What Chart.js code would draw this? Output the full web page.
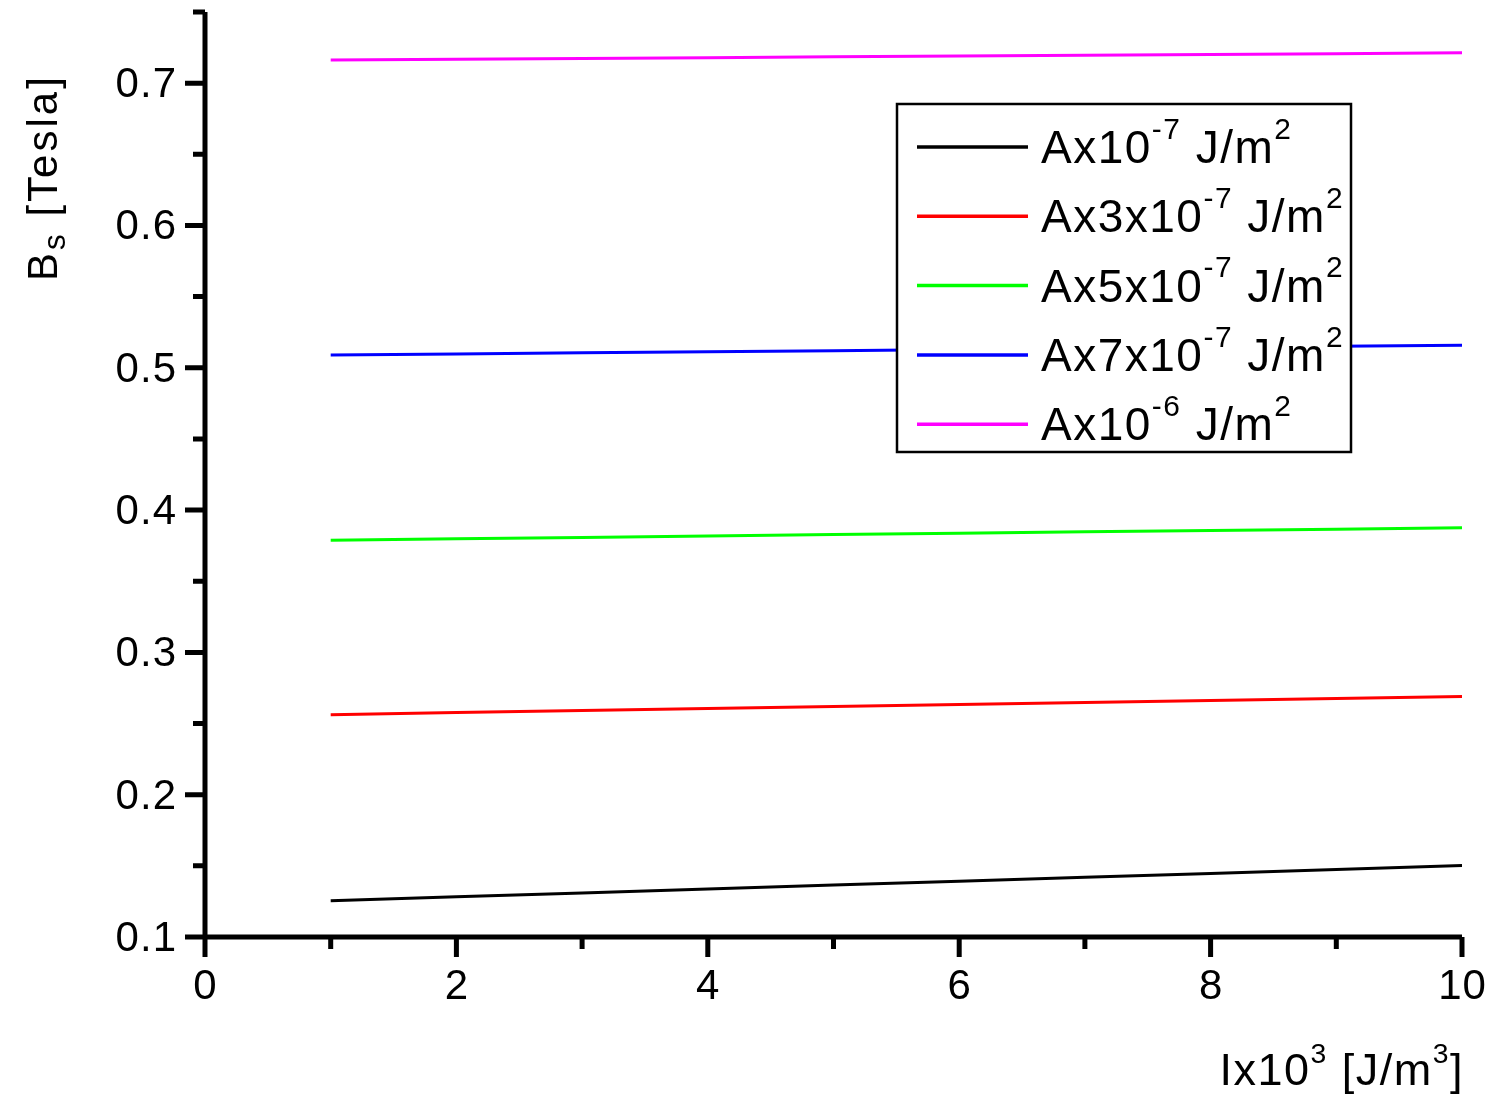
<!DOCTYPE html>
<html>
<head>
<meta charset="utf-8">
<script src="https://cdn.jsdelivr.net/npm/chart.js@4.4.0/dist/chart.umd.min.js"></script>
<style>
    html, body { margin: 0; padding: 0; background: #fff; }
    canvas { display: block; }
</style>
</head>
<body>
<canvas id="myChart" width="1498" height="1112"></canvas>
<script>
// I x 10^3 [J/m^3]
const xValues = [1, 2, 3, 4, 5, 6, 7, 8, 9, 10];

// Bs [Tesla]
const bsA1e7 = [0.1255, 0.1282, 0.1310, 0.1338, 0.1365, 0.1392, 0.1420, 0.1447, 0.1475, 0.1502];
const bsA3e7 = [0.2562, 0.2577, 0.2592, 0.2606, 0.2620, 0.2634, 0.2648, 0.2662, 0.2676, 0.2690];
const bsA5e7 = [0.3788, 0.3798, 0.3808, 0.3818, 0.3828, 0.3838, 0.3847, 0.3856, 0.3866, 0.3875];
const bsA7e7 = [0.5089, 0.5097, 0.5105, 0.5113, 0.5120, 0.5128, 0.5136, 0.5143, 0.5151, 0.5159];
const bsA1e6 = [0.7162, 0.7168, 0.7174, 0.7179, 0.7185, 0.7191, 0.7196, 0.7202, 0.7207, 0.7213];

const seriesLabels = [
    "Ax10^{-7} J/m^{2}",
    "Ax3x10^{-7} J/m^{2}",
    "Ax5x10^{-7} J/m^{2}",
    "Ax7x10^{-7} J/m^{2}",
    "Ax10^{-6} J/m^{2}"
];
const seriesColors = ["#000000", "#ff0000", "#00ff00", "#0000ff", "#ff00ff"];

const xMajorTicks = [0, 2, 4, 6, 8, 10];
const xMinorTicks = [1, 3, 5, 7, 9];
const yMajorTicks = [0.1, 0.2, 0.3, 0.4, 0.5, 0.6, 0.7];
const yMinorTicks = [0.15, 0.25, 0.35, 0.45, 0.55, 0.65, 0.75];

const xTitle = "Ix10^{3} [J/m^{3}]";
const yTitle = "B_{s} [Tesla]";

const FONT = '"Liberation Sans", Arial, sans-serif';

function richParts(text) {
    const parts = [];
    const re = /([\^_])\{([^}]*)\}/g;
    let last = 0;
    let m;
    while ((m = re.exec(text)) !== null) {
        if (m.index > last) parts.push({ t: text.slice(last, m.index), k: "" });
        parts.push({ t: m[2], k: m[1] });
        last = re.lastIndex;
    }
    if (last < text.length) parts.push({ t: text.slice(last), k: "" });
    return parts;
}

function richWidth(ctx, text, size, o) {
    let w = 0;
    ctx.letterSpacing = o.spacing + "px";
    richParts(text).forEach(p => {
        ctx.font = (p.k ? size * o.scale : size) + "px " + FONT;
        w += ctx.measureText(p.t).width;
    });
    return w;
}

function drawRich(ctx, text, x, y, size, o) {
    ctx.textAlign = "left";
    ctx.textBaseline = "alphabetic";
    ctx.letterSpacing = o.spacing + "px";
    richParts(text).forEach(p => {
        const s = p.k ? size * o.scale : size;
        let dy = 0;
        if (p.k === "^") dy = -size * o.rise;
        if (p.k === "_") dy = size * o.drop;
        ctx.font = s + "px " + FONT;
        ctx.fillText(p.t, x, y + dy);
        x += ctx.measureText(p.t).width;
    });
}

const axesPlugin = {
    id: "originAxes",
    afterDraw(chart) {
        const ctx = chart.ctx;
        const xs = chart.scales.x;
        const ys = chart.scales.y;
        const area = chart.chartArea;

        ctx.save();
        ctx.strokeStyle = "#000";
        ctx.fillStyle = "#000";
        ctx.lineWidth = 5;
        ctx.lineCap = "butt";

        // garis sumbu
        ctx.beginPath();
        ctx.moveTo(area.left, area.top);
        ctx.lineTo(area.left, area.bottom);
        ctx.moveTo(area.left, area.bottom);
        ctx.lineTo(area.right, area.bottom);
        ctx.stroke();

        // tick sumbu Y (ke kiri)
        ctx.beginPath();
        yMajorTicks.forEach(v => {
            const py = ys.getPixelForValue(v);
            ctx.moveTo(area.left - 20, py);
            ctx.lineTo(area.left, py);
        });
        yMinorTicks.forEach(v => {
            const py = ys.getPixelForValue(v);
            ctx.moveTo(area.left - 12, py);
            ctx.lineTo(area.left, py);
        });
        // tick sumbu X (ke bawah)
        xMajorTicks.forEach(v => {
            const px = xs.getPixelForValue(v);
            ctx.moveTo(px, area.bottom);
            ctx.lineTo(px, area.bottom + 20);
        });
        xMinorTicks.forEach(v => {
            const px = xs.getPixelForValue(v);
            ctx.moveTo(px, area.bottom);
            ctx.lineTo(px, area.bottom + 12);
        });
        ctx.stroke();

        // label tick
        ctx.font = "42px " + FONT;
        ctx.letterSpacing = "1px";
        ctx.textBaseline = "alphabetic";
        ctx.textAlign = "right";
        yMajorTicks.forEach(v => {
            ctx.fillText(v.toFixed(1), area.left - 28, ys.getPixelForValue(v) + 14);
        });
        ctx.textAlign = "center";
        xMajorTicks.forEach(v => {
            ctx.fillText(String(v), xs.getPixelForValue(v) + 0.5, area.bottom + 62);
        });

        // judul sumbu
        const xOpt = { scale: 0.63, rise: 0.49, drop: 0.2, spacing: 1.5 };
        const wx = richWidth(ctx, xTitle, 45, xOpt);
        drawRich(ctx, xTitle, area.right + 2 - wx, 1085, 45, xOpt);

        const yOpt = { scale: 0.75, rise: 0.49, drop: 0.2, spacing: 3 };
        ctx.save();
        ctx.translate(57, 281);
        ctx.rotate(-Math.PI / 2);
        drawRich(ctx, yTitle, 0, 0, 42, yOpt);
        ctx.restore();

        // legenda
        const box = { left: 897, top: 104, right: 1351, bottom: 452 };
        ctx.fillStyle = "#fff";
        ctx.fillRect(box.left, box.top, box.right - box.left, box.bottom - box.top);
        ctx.lineWidth = 2.5;
        ctx.strokeRect(box.left, box.top, box.right - box.left, box.bottom - box.top);

        const legOpt = { scale: 0.65, rise: 0.53, drop: 0.3, spacing: 1.5 };
        chart.data.datasets.forEach((ds, i) => {
            const base = 163 + i * 69.3;
            ctx.strokeStyle = ds.borderColor;
            ctx.lineWidth = 3.5;
            ctx.beginPath();
            ctx.moveTo(917, base - 16);
            ctx.lineTo(1028, base - 16);
            ctx.stroke();
            ctx.fillStyle = "#000";
            drawRich(ctx, ds.label, 1041, base, 46, legOpt);
        });

        ctx.restore();
    }
};

const seriesData = [bsA1e7, bsA3e7, bsA5e7, bsA7e7, bsA1e6];

const datasets = seriesData.map((vals, i) => ({
    label: seriesLabels[i],
    data: xValues.map((x, j) => ({ x: x, y: vals[j] })),
    borderColor: seriesColors[i],
    backgroundColor: seriesColors[i],
    borderWidth: 3,
    pointRadius: 0,
    fill: false,
    tension: 0
}));

const myChart = new Chart(document.getElementById("myChart"), {
    type: "line",
    data: { datasets: datasets },
    options: {
        responsive: false,
        animation: false,
        layout: {
            padding: { left: 205, right: 36, top: 12, bottom: 175 }
        },
        scales: {
            x: { type: "linear", min: 0, max: 10, display: false },
            y: { type: "linear", min: 0.1, max: 0.75, display: false }
        },
        plugins: {
            legend: { display: false },
            tooltip: { enabled: false }
        }
    },
    plugins: [axesPlugin]
});
</script>
</body>
</html>
